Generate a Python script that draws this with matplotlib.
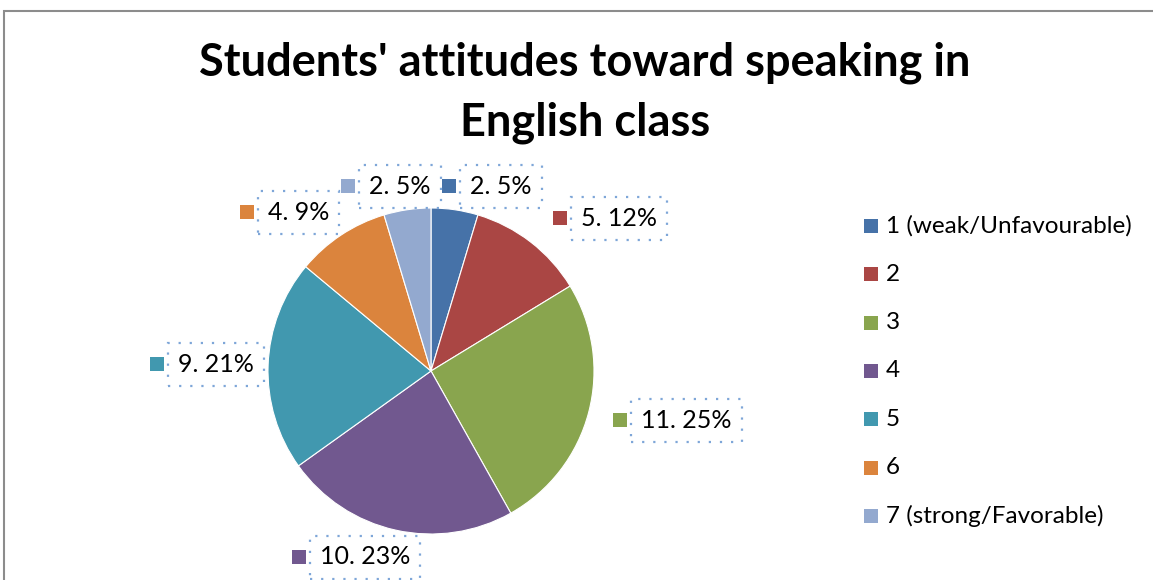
import matplotlib
matplotlib.use("Agg")
import matplotlib.pyplot as plt
from matplotlib.patches import Rectangle

plt.rcParams['font.family'] = ['Lato', 'DejaVu Sans']

categories = ['1 (weak/Unfavourable)', '2', '3', '4', '5', '6', '7 (strong/Favorable)']
counts = [2, 5, 11, 10, 9, 4, 2]
percents = [5, 12, 25, 23, 21, 9, 5]
colors = ['#4672a8', '#aa4644', '#89a54e', '#71588f', '#4198af', '#db843d', '#93a9cf']

W, H = 1153, 580
fig = plt.figure(figsize=(W / 100, H / 100), dpi=100)


def fx(px):
    return px / W


def fy(py):
    return 1 - py / H


# chart frame
fig.add_artist(Rectangle((fx(4), fy(H + 5)), fx(W + 10), fy(11) - fy(H + 5),
                         transform=fig.transFigure, fill=False,
                         edgecolor='#8c8c8c', linewidth=1.5))

fig.text(fx(585), fy(93), "Students' attitudes toward speaking in\nEnglish class",
         ha='center', va='center', fontsize=32.5, fontweight='bold',
         linespacing=1.5)

# pie area
cx, cy, r = 431, 371, 163
ax = fig.add_axes([fx(cx - r), fy(cy + r), fx(2 * r), fy(cy - r) - fy(cy + r)])
ax.pie(counts, colors=colors, startangle=90, counterclock=False,
       wedgeprops=dict(linewidth=0.8, edgecolor='white'))
ax.set_xlim(-1, 1)
ax.set_ylim(-1, 1)
ax.set_aspect('equal')
ax.axis('off')

# data labels: left edge of marker square, vertical center (pixels)
label_pos = [(442, 186), (553, 218), (613, 420), (292, 557),
             (150, 364), (240, 212), (341, 186)]
for (lx, ly), n, p, c in zip(label_pos, counts, percents, colors):
    fig.add_artist(Rectangle((fx(lx), fy(ly + 7)), fx(14), fy(ly - 7) - fy(ly + 7),
                             transform=fig.transFigure, facecolor=c, edgecolor='none'))
    fig.text(fx(lx + 28), fy(ly), f'{n}. {p}%', ha='left', va='center',
             fontsize=18,
             bbox=dict(boxstyle='square,pad=0.4', facecolor='none',
                       edgecolor='#7ea6d8', linestyle=(0, (1, 4)), linewidth=1.6))

# legend
for i, (name, c) in enumerate(zip(categories, colors)):
    ly = 226 + i * 48.3
    fig.add_artist(Rectangle((fx(864), fy(ly + 7)), fx(14), fy(ly - 7) - fy(ly + 7),
                             transform=fig.transFigure, facecolor=c, edgecolor='none'))
    fig.text(fx(886), fy(ly), name, ha='left', va='center', fontsize=17.5)

fig.savefig('out.png', dpi=100, facecolor='white')
